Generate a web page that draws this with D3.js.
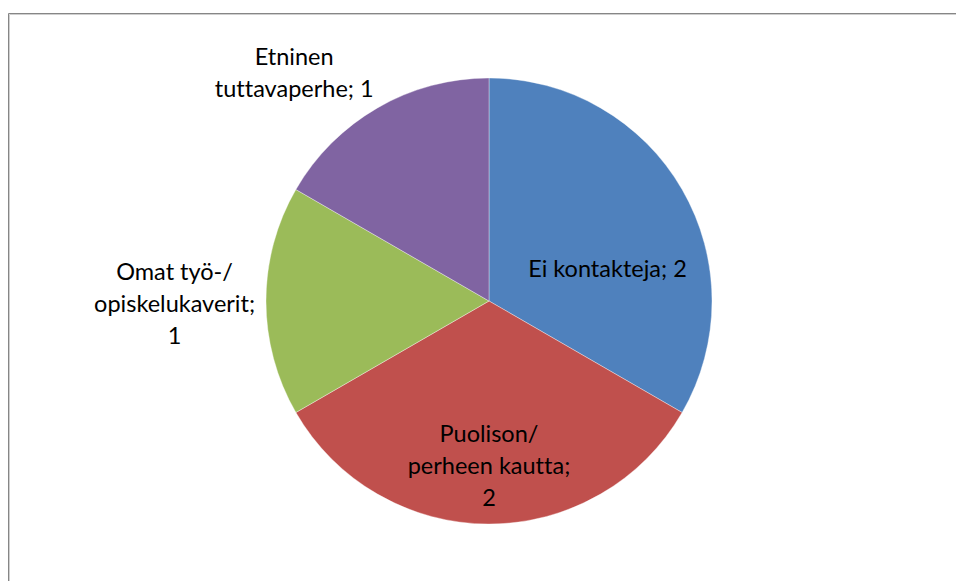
<!DOCTYPE html>
<html>
<head>
<meta charset="utf-8">
<script src="https://cdn.jsdelivr.net/npm/d3@7"></script>
<style>
  html, body { margin: 0; padding: 0; background: #fff; }
  svg { display: block; }
</style>
</head>
<body>
<svg id="chart" width="956" height="581"></svg>
<script>
// chart data
const categories = [
  ["Ei kontakteja; 2"],
  ["Puolison/", "perheen kautta;", "2"],
  ["Omat työ-/", "opiskelukaverit;", "1"],
  ["Etninen", "tuttavaperhe; 1"]
];
const values = [2, 2, 1, 1];
const colors = ["#4F81BD", "#C0504D", "#9BBB59", "#8064A2"];

// where each label sits: angle (deg, clockwise from top) and distance / radius
const labelAngle = [75, 180, 269.5, 319.5];
const labelDist = [0.55, 0.74, 1.41, 1.345];

const svg = d3.select("#chart");
const cx = 489, cy = 301, radius = 223;
const lineH = 32;

// frame
svg.append("path")
  .attr("d", "M8.5,581 V13.5 H956")
  .attr("fill", "none")
  .attr("stroke", "#868686")
  .attr("stroke-width", 1);
svg.append("path")
  .attr("d", "M9.5,581 V14.5 H956")
  .attr("fill", "none")
  .attr("stroke", "#cfcfcf")
  .attr("stroke-width", 1);

const pie = d3.pie().sort(null).value(d => d);
const arc = d3.arc().innerRadius(0).outerRadius(radius);

const g = svg.append("g").attr("transform", "translate(" + cx + "," + cy + ")");

g.selectAll("path.slice")
  .data(pie(values))
  .enter()
  .append("path")
  .attr("class", "slice")
  .attr("d", arc)
  .attr("fill", (d, i) => colors[i])
  .attr("stroke", "#ffffff")
  .attr("stroke-opacity", 0.6)
  .attr("stroke-width", 0.6);

const labels = g.selectAll("text.lbl")
  .data(categories)
  .enter()
  .append("text")
  .attr("class", "lbl")
  .attr("text-anchor", "middle")
  .style("font-family", "Lato, 'Open Sans', sans-serif")
  .style("font-size", "23.5px")
  .style("font-variant-ligatures", "none")
  .attr("fill", "#000")
  .attr("transform", function(d, i) {
    const a = labelAngle[i] * Math.PI / 180;
    const r = labelDist[i] * radius;
    return "translate(" + (r * Math.sin(a)) + "," + (-r * Math.cos(a)) + ")";
  });

labels.each(function(lines) {
  const t = d3.select(this);
  const off = -(lines.length - 1) / 2 * lineH;
  lines.forEach((s, j) => {
    t.append("tspan")
      .attr("x", 0)
      .attr("y", off + j * lineH)
      .attr("dy", "0.35em")
      .text(s);
  });
});
</script>
</body>
</html>
